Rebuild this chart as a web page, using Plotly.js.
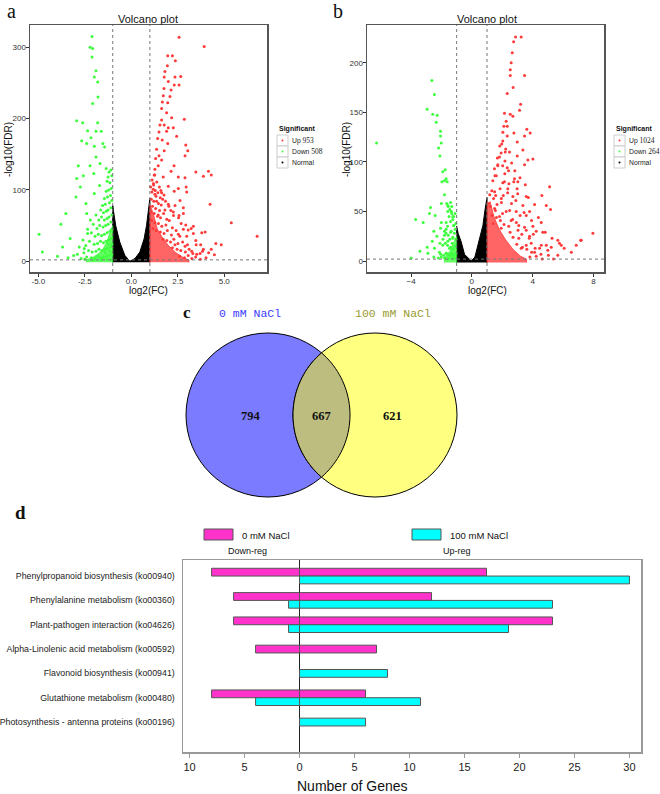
<!DOCTYPE html>
<html>
<head>
<meta charset="utf-8">
<script src="https://cdn.plot.ly/plotly-3.0.1.min.js"></script>
<style>
  body { margin: 0; background: #fff; }
  #chart { width: 660px; height: 794px; }
</style>
</head>
<body>
<div id="chart"></div>
<script>
// ---- panel a : volcano, 0 mM NaCl ----
const upA = [[2.57,314],[3.92,301],[1.96,288],[2.21,288],[2.37,281],[1.94,274],[1.81,266],[2.35,258],[2.66,259],[1.77,258],
  [1.99,252],[2.31,247],[2.57,247],[1.76,242],[2.14,240],[1.72,232],[2.08,231],[1.96,222],[1.67,223],[1.63,214],
  [1.9,208],[2.17,201],[1.63,198],[2.85,199],[1.54,191],[1.77,191],[1.99,187],[2.26,187],[1.49,181],[1.9,182],
  [2.44,175],[1.42,172],[1.66,170],[1.96,165],[2.93,163],[1.36,157],[1.77,155],[3.04,155],[1.49,148],[2.89,148],
  [1.31,144],[1.63,142],[1.45,134],[2.3,134],[1.27,129],[2.14,126],[3.47,125],[4.15,126],[4.3,121],[3.88,119],
  [1.23,121],[1.72,118],[2.53,118],[2.89,117],[1.2,107],[1.99,105],[2.95,104],[2.53,102],[1.18,101],[2.31,98],
  [1.63,96],[2.98,97],[2.62,85],[4.24,80],[1.36,84],[1.99,80],[2.35,78],[2.8,75],[1.81,72],[2.26,69],
  [2.8,67],[1.45,65],[2.57,64],[3.34,49],[3.22,46],[3.79,40],[3.97,41],[5.38,54],[6.77,35],[2.8,45],
  [2.53,38],[2.98,35],[4.55,25],[4.84,23],[4.3,17],[3.83,14],[3.49,23],[3.7,11],[3.52,10],[2.89,21],
  [2.35,23],[3.25,14],[1.04,104],[1.11,97],[1.19,109],[1.27,94],[1.07,87],[1.21,84],[1.33,91],[1.46,81],
  [1.14,77],[1.31,74],[1.52,71],[1.61,79],[1.06,69],[1.23,67],[1.41,63],[1.57,61],[1.74,67],[1.91,59],
  [1.09,57],[1.27,54],[1.46,53],[1.64,49],[1.86,51],[2.04,57],[2.21,47],[1.16,46],[1.34,43],[1.56,41],
  [1.76,39],[1.94,43],[2.16,37],[2.41,43],[2.61,35],[1.71,31],[1.91,29],[2.11,27],[2.29,31],[2.51,25],
  [2.76,27],[3.02,23],[2.21,19],[2.46,17],[2.66,15],[2.91,13],[3.11,17],[3.31,11],[2.61,7],[2.86,5],
  [3.06,8],[3.26,4],[3.46,6],[3.71,3],[4.02,5],[1.29,99],[1.43,96],[1.56,89],[1.69,87],[1.12,114],
  [1.26,121],[1.37,111],[1.51,104],[1.59,99],[1.76,93],[1.84,84],[2.02,77],[2.13,71],[2.27,64],[2.54,61],
  [2.68,53],[2.93,51],[3.06,44],[3.34,39],[3.47,29],[3.73,23],[3.88,17],[4.16,12],[4.47,9]];
const downA = [[-2.11,315],[-2.22,300],[-2.08,298],[-2.11,286],[-1.9,267],[-1.99,258],[-1.81,251],[-1.79,230],[-2.08,221],[-2.94,197],
  [-2.62,194],[-1.81,194],[-2.35,183],[-1.9,182],[-1.62,182],[-2.67,169],[-2.4,165],[-2.17,173],[-1.53,165],[-1.99,161],
  [-1.44,160],[-1.9,146],[-1.68,137],[-2.22,134],[-2.85,134],[-1.35,130],[-2.58,120],[-2.94,116],[-2.02,123],[-1.71,106],
  [-2.74,104],[-2.98,90],[-1.99,95],[-2.44,81],[-3.52,67],[-2.4,67],[-3.79,52],[-3.29,32],[-3.7,20],[-3.97,7],
  [-4.96,38],[-4.78,13],[-2.8,20],[-2.53,18],[-2.35,39],[-1.05,120],[-1.1,128],[-1.2,125],[-1.25,118],[-1.15,110],
  [-1.3,112],[-1.08,102],[-1.22,100],[-1.35,98],[-1.12,92],[-1.28,90],[-1.45,88],[-1.05,85],[-1.18,82],[-1.4,80],
  [-1.55,78],[-1.1,75],[-1.25,72],[-1.35,70],[-1.5,68],[-1.65,72],[-1.05,65],[-1.2,62],[-1.3,60],[-1.45,58],
  [-1.6,62],[-1.75,58],[-1.9,65],[-1.1,55],[-1.25,52],[-1.38,50],[-1.52,48],[-1.7,50],[-1.85,46],[-2.05,52],
  [-2.2,58],[-1.05,45],[-1.15,42],[-1.3,40],[-1.45,38],[-1.6,36],[-1.78,38],[-1.95,35],[-2.15,40],[-2.35,45],
  [-2.6,30],[-1.08,32],[-1.22,30],[-1.36,28],[-1.5,26],[-1.66,28],[-1.82,25],[-2.0,24],[-2.25,28],[-2.45,22],
  [-1.12,20],[-1.28,18],[-1.42,17],[-1.58,15],[-1.74,17],[-1.9,14],[-2.1,13],[-2.3,15],[-2.55,12],[-2.9,10],
  [-1.05,10],[-1.2,8],[-1.35,7],[-1.5,6],[-1.65,5],[-1.8,7],[-1.95,4],[-2.15,5],[-2.4,6],[-2.7,4],
  [-3.1,8],[-3.4,5],[-1.1,3],[-1.3,2.5],[-1.6,2.5],[-2.0,2.5],[-2.5,3],[-1.15,14],[-1.25,24],[-1.05,24],[-1.4,12]];
// dense cores (outline of the solid-looking part of each cloud)
const upCoreAx = [1.0, 1.0, 1.2, 1.4, 1.7, 2.0, 2.4, 2.8, 3.1, 3.1];
const upCoreAy = [-1.5, 80, 65, 45, 32, 22, 12, 5, 2, -1.5];
const downCoreAx = [-1.0, -1.0, -1.15, -1.3, -1.5, -1.8, -2.1, -2.4, -2.4];
const downCoreAy = [-1.5, 50, 40, 28, 18, 10, 5, 2, -1.5];
const normalAx = [-1.0, -1.0, -0.95, -0.84, -0.62, -0.35, -0.08, 0.2, 0.46, 0.69, 0.82, 0.91, 1.0, 1.0];
const normalAy = [-1.5, 78, 69, 50, 27, 8.4, 0, 4, 13, 31.7, 50.4, 69, 88, -1.5];

// ---- panel b : volcano, 100 mM NaCl ----
const upB = [[2.88,226],[3.25,226],[2.75,221],[2.66,210],[2.59,200],[2.53,193],[2.53,187],[3.47,187],[2.72,175],[2.33,169],
  [3.21,158],[3.14,152],[2.53,148],[2.15,149],[2.7,146],[2.26,141],[2.11,136],[2.33,136],[3.62,133],[3.84,129],
  [2.77,129],[3.47,126],[2.04,130],[2.33,126],[2.04,121],[2.99,120],[1.84,116],[3.36,112],[2.2,110],[2.48,110],
  [2.99,106],[3.69,102],[4.02,103],[1.82,105],[3.47,97],[1.71,96],[2.33,94],[2.81,83],[3.03,80],[1.61,86],
  [2.15,80],[2.37,73],[4.61,66],[5.12,75],[3.58,65],[2.7,65],[1.5,70],[1.94,63],[4.9,56],[5.18,52],
  [3.36,56],[2.92,50],[3.8,50],[2.26,50],[3.58,46],[1.5,53],[1.82,45],[2.59,41],[4.57,39],[4.02,35],
  [3.09,36],[3.58,31],[4.67,29],[4.24,30],[5.66,21],[5.77,18],[3.8,25],[3.09,23],[7.16,21],[7.97,28],
  [6.87,16],[4.9,16],[5.23,14],[5.89,16],[4.46,13],[4.13,9],[5.0,11],[4.57,16],[5.66,6],[3.58,16],
  [3.25,13],[3.91,18],[1.07,58],[1.18,67],[1.31,71],[1.38,81],[1.52,86],[1.49,93],[1.71,97],[1.68,104],
  [1.93,109],[1.22,55],[1.43,63],[1.57,66],[1.86,73],[2.04,79],[2.17,88],[1.33,46],[1.55,51],[1.66,57],
  [1.95,59],[2.07,66],[2.36,69],[2.44,78],[2.76,80],[1.41,38],[1.62,44],[1.88,41],[2.02,48],[2.49,51],
  [2.61,58],[2.9,61],[3.02,68],[1.93,33],[2.12,37],[2.43,35],[2.68,42],[2.93,39],[3.18,46],[3.44,49],
  [2.52,29],[2.71,24],[3.04,31],[3.29,27],[3.47,34],[3.78,23],[4.05,27],[2.96,17],[3.33,14],[3.62,12],
  [3.94,9],[4.17,13],[4.55,7],[3.82,4],[4.24,5],[4.63,2],[5.04,6],[5.38,2],[2.03,96],[2.18,101],
  [2.42,91],[1.97,118],[2.23,113],[2.62,99],[2.83,91],[3.17,84],[3.52,77],[2.98,73],[3.72,64],[4.13,57],
  [4.38,44],[3.93,41],[4.83,29],[5.28,23],[6.08,13],[6.55,9],[7.2,21]];
const downB = [[-2.63,182],[-2.46,168],[-2.94,153],[-2.57,148],[-2.28,147],[-2.34,140],[-2.06,131],[-2.06,126],[-2.01,119],[-6.27,119],
  [-2.19,114],[-2.1,106],[-1.75,92],[-1.91,90],[-1.69,83],[-1.8,81],[-1.62,80],[-1.97,80],[-1.8,67],[-2.01,58],
  [-1.4,59],[-1.58,56],[-1.32,55],[-2.72,54],[-2.41,46],[-2.79,48],[-1.58,50],[-1.32,48],[-3.7,42],[-3.2,39],
  [-1.25,45],[-1.69,39],[-2.01,39],[-2.06,33],[-2.5,30],[-1.69,32],[-1.4,29],[-1.18,36],[-1.25,23],[-1.8,26],
  [-1.58,20],[-2.94,14],[-3.42,10],[-2.89,8],[-2.46,13],[-2.13,9],[-3.99,3],[-1.91,16],[-1.47,13],[-1.32,6],
  [-1.69,8],[-2.01,4],[-1.05,38],[-1.1,32],[-1.2,36],[-1.15,28],[-1.25,24],[-1.35,30],[-1.05,22],[-1.3,18],
  [-1.45,22],[-1.55,26],[-1.12,15],[-1.22,12],[-1.4,14],[-1.6,16],[-1.75,18],[-1.05,8],[-1.18,6],[-1.32,8],
  [-1.5,6],[-1.68,8],[-1.85,6],[-2.05,7],[-1.1,3],[-1.3,3],[-1.55,2.5],[-1.8,3],[-2.2,3],[-2.5,4],
  [-1.4,40],[-1.5,45],[-1.6,35],[-1.7,28],[-1.9,22],[-2.1,18],[-1.2,45],[-1.35,50],[-1.45,52],[-1.55,55],
  [-1.65,58],[-1.8,30],[-2.3,25],[-2.6,20],[-1.25,42],[-1.1,48]];
const upCoreBx = [1.0, 1.0, 1.2, 1.45, 1.8, 2.2, 2.7, 3.2, 3.6, 3.6];
const upCoreBy = [-1.5, 55, 60, 45, 32, 22, 12, 5, 2, -1.5];
const downCoreBx = [-1.0, -1.0, -1.2, -1.45, -1.8, -1.8];
const downCoreBy = [-1.5, 25, 18, 10, 3, -1.5];
const normalBx = [-1.0, -1.0, -0.9, -0.7, -0.48, -0.04, 0.2, 0.44, 0.73, 0.88, 0.97, 1.0, 1.0];
const normalBy = [-1.5, 35, 28, 19.4, 6.8, 0, 4, 19.4, 36, 53, 62, 64, -1.5];

// ---- panel c : venn counts ----
const vennLeft = 794, vennBoth = 667, vennRight = 621;

// ---- panel d : KEGG pathways ----
const pathways = ["Phenylpropanoid biosynthesis (ko00940)", "Phenylalanine metabolism (ko00360)",
  "Plant-pathogen interaction (ko04626)", "Alpha-Linolenic acid metabolism (ko00592)",
  "Flavonoid biosynthesis (ko00941)", "Glutathione metabolism (ko00480)",
  "Photosynthesis - antenna proteins (ko00196)"];
const down0 = [8, 6, 6, 4, 0, 8, 0];
const up0 = [17, 12, 23, 7, 0, 6, 0];
const down100 = [0, 1, 1, 0, 0, 4, 0];
const up100 = [30, 23, 19, 0, 8, 11, 6];

const RED = '#ff3a3a', GREEN = '#3dff3d', PINK = '#ff33cc', CYAN = '#00ffff';
const W = 660, H = 794;
const px = v => v / W;
const py = v => 1 - v / H;

function dots(pts, color, xa, ya) {
  return { type: 'scatter', mode: 'markers', x: pts.map(p => p[0]), y: pts.map(p => p[1]),
    xaxis: xa, yaxis: ya, marker: { size: 3, color: color }, hoverinfo: 'skip' };
}
function blob(xs, ys, color, xa, ya) {
  return { type: 'scatter', mode: 'lines', x: xs, y: ys, fill: 'toself', fillcolor: color,
    line: { width: 1, color: color }, xaxis: xa, yaxis: ya, hoverinfo: 'skip' };
}

const data = [
  blob(normalAx, normalAy, '#000', 'x', 'y'),
  blob(upCoreAx, upCoreAy, 'rgba(255,50,50,0.75)', 'x', 'y'),
  blob(downCoreAx, downCoreAy, 'rgba(50,255,50,0.75)', 'x', 'y'),
  dots(upA, RED, 'x', 'y'),
  dots(downA, GREEN, 'x', 'y'),
  blob(normalBx, normalBy, '#000', 'x2', 'y2'),
  blob(upCoreBx, upCoreBy, 'rgba(255,50,50,0.75)', 'x2', 'y2'),
  blob(downCoreBx, downCoreBy, 'rgba(50,255,50,0.75)', 'x2', 'y2'),
  dots(upB, RED, 'x2', 'y2'),
  dots(downB, GREEN, 'x2', 'y2'),
];

// bars: paired rows share the slot, single rows are centred
const bw = 0.32;
const idx = pathways.map((_, i) => i);
const has0 = idx.map(i => down0[i] + up0[i] > 0);
const has100 = idx.map(i => down100[i] + up100[i] > 0);
const off0 = idx.map(i => has100[i] ? -bw : -bw / 2);
const off100 = idx.map(i => has0[i] ? 0 : -bw / 2);
function bars(vals, sign, color, offs) {
  return { type: 'bar', orientation: 'h', x: vals.map(v => v ? sign * v : null), y: idx,
    xaxis: 'x3', yaxis: 'y3', width: bw, offset: offs, hoverinfo: 'skip',
    marker: { color: color, line: { color: '#555', width: 1 } } };
}
data.push(bars(down0, -1, PINK, off0), bars(up0, 1, PINK, off0),
          bars(down100, -1, CYAN, off100), bars(up100, 1, CYAN, off100));

const volAxis = {
  showgrid: false, zeroline: false, showline: true, mirror: true, linecolor: '#555', linewidth: 1.5,
  ticks: 'outside', ticklen: 3, tickcolor: '#333', ticklabelstandoff: -2,
  tickfont: { family: 'Liberation Sans', size: 8, color: '#333' }
};

const annotations = [];
const shapes = [];
function note(x, y, text, size, opts) {
  annotations.push(Object.assign({ xref: 'paper', yref: 'paper', x: px(x), y: py(y), text: text,
    showarrow: false, xanchor: 'center', yanchor: 'middle',
    font: { family: 'Liberation Sans', size: size, color: '#111' } }, opts || {}));
}

// panel letters and volcano texts
note(11, 11, 'a', 20, { font: { family: 'Liberation Serif', size: 20, color: '#111' } });
note(338, 11, 'b', 20, { font: { family: 'Liberation Serif', size: 20, color: '#111' } });
note(148, 19, 'Volcano plot', 11);
note(487, 19, 'Volcano plot', 11);
note(148, 290, 'log2(FC)', 10);
note(487, 290, 'log2(FC)', 10);
note(8, 150, '-log10(FDR)', 10, { textangle: -90 });
note(346, 150, '-log10(FDR)', 10, { textangle: -90 });

// ggplot-like keys
function keys(x0, labels) {
  note(x0, 129, '<b>Significant</b>', 7, { xanchor: 'left' });
  const cols = [RED, GREEN, '#000'];
  labels.forEach((lab, i) => {
    const top = 135 + i * 11;
    shapes.push({ type: 'rect', xref: 'paper', yref: 'paper', x0: px(x0), x1: px(x0 + 11),
      y0: py(top + 11), y1: py(top), line: { color: '#ccc', width: 1 }, fillcolor: '#fff' });
    shapes.push({ type: 'circle', xref: 'paper', yref: 'paper', x0: px(x0 + 4.5), x1: px(x0 + 6.5),
      y0: py(top + 6.5), y1: py(top + 4.5), line: { width: 0 }, fillcolor: cols[i] });
    note(x0 + 13, top + 5.5, lab, 6.8, { xanchor: 'left', font: { family: 'Liberation Sans', size: 6.8, color: '#222' } });
  });
}
const serif = n => '<span style="font-family:Liberation Serif;font-size:7.5px">' + n + '</span>';
keys(277, ['Up ' + serif(953), 'Down ' + serif(508), 'Normal']);
keys(614, ['Up ' + serif(1024), 'Down ' + serif(264), 'Normal']);

// dashed cut-offs
['x', 'x2'].forEach((xa, k) => {
  const ya = k ? 'y2' : 'y';
  [-1, 1].forEach(v => shapes.push({ type: 'line', xref: xa, yref: ya + ' domain', x0: v, x1: v, y0: 0, y1: 1,
    line: { color: '#777', width: 1, dash: 'dot' } }));
  shapes.push({ type: 'line', xref: xa + ' domain', yref: ya, x0: 0, x1: 1, y0: 2, y1: 2,
    line: { color: '#777', width: 1, dash: 'dot' } });
});

// venn
const c1 = [268, 415], c2 = [375, 415], r = 82;
function ring(c, fill) {
  return { type: 'circle', xref: 'paper', yref: 'paper', x0: px(c[0] - r), x1: px(c[0] + r),
    y0: py(c[1] + r), y1: py(c[1] - r), fillcolor: fill, line: { color: '#000', width: 1 } };
}
shapes.push(ring(c1, '#7b7bff'), ring(c2, '#ffff80'));
const half = (c2[0] - c1[0]) / 2;
const phi = Math.acos(half / r);
let lens = '';
for (let k = 0; k <= 40; k++) {          // left edge of the lens (circle 2), top -> bottom
  const t = Math.PI + phi - 2 * phi * k / 40;
  lens += (k ? 'L' : 'M') + px(c2[0] + r * Math.cos(t)) + ',' + py(c2[1] + r * Math.sin(t));
}
for (let k = 0; k <= 40; k++) {          // right edge (circle 1), bottom -> top
  const t = phi - 2 * phi * k / 40;
  lens += 'L' + px(c1[0] + r * Math.cos(t)) + ',' + py(c1[1] + r * Math.sin(t));
}
shapes.push({ type: 'path', xref: 'paper', yref: 'paper', path: lens + 'Z', fillcolor: '#bdbd80',
  line: { color: '#000', width: 1 } });
const vfont = { family: 'Liberation Serif', size: 12.5, color: '#111' };
note(c1[0] - 17, c1[1] + 1, '<b>' + vennLeft + '</b>', 12.5, { font: vfont });
note((c1[0] + c2[0]) / 2, c1[1] + 1, '<b>' + vennBoth + '</b>', 12.5, { font: vfont });
note(c2[0] + 17, c2[1] + 1, '<b>' + vennRight + '</b>', 12.5, { font: vfont });
note(187, 312, '<b>c</b>', 17, { font: { family: 'Liberation Serif', size: 17, color: '#111' } });
note(250, 313, '0 mM NaCl', 11, { font: { family: 'Liberation Mono', size: 11.5, color: '#3a3aff' } });
note(393, 313, '100 mM NaCl', 11, { font: { family: 'Liberation Mono', size: 11.5, color: '#9a9a30' } });

// panel d texts and keys
note(21, 512, '<b>d</b>', 19, { font: { family: 'Liberation Serif', size: 19, color: '#111' } });
[[204, PINK, '0 mM NaCl'], [412, CYAN, '100 mM NaCl']].forEach(([x0, col, lab]) => {
  shapes.push({ type: 'rect', xref: 'paper', yref: 'paper', x0: px(x0), x1: px(x0 + 29), y0: py(540), y1: py(529),
    fillcolor: col, line: { color: '#555', width: 1 } });
  note(x0 + 36, 535, lab, 9.5, { xanchor: 'left' });
});
note(247, 551, 'Down-reg', 9);
note(457, 551, 'Up-reg', 9);
note(353, 786, 'Number of Genes', 14);

const layout = {
  width: W, height: H, margin: { l: 0, r: 0, t: 0, b: 0 }, showlegend: false,
  paper_bgcolor: '#fff', plot_bgcolor: '#fff', barmode: 'overlay',
  xaxis: Object.assign({}, volAxis, { domain: [px(30), px(267)], anchor: 'y', range: [-5.45, 7.3],
    tickvals: [-5, -2.5, 0, 2.5, 5], ticktext: ['-5.0', '-2.5', '0.0', '2.5', '5.0'] }),
  yaxis: Object.assign({}, volAxis, { domain: [py(272), py(25)], anchor: 'x', range: [-15, 331],
    tickvals: [0, 100, 200, 300] }),
  xaxis2: Object.assign({}, volAxis, { domain: [px(367), px(604)], anchor: 'y2', range: [-6.9, 8.7],
    tickvals: [-4, 0, 4, 8] }),
  yaxis2: Object.assign({}, volAxis, { domain: [py(272), py(25)], anchor: 'x2', range: [-11, 238],
    tickvals: [0, 50, 100, 150, 200] }),
  xaxis3: { domain: [px(183), px(641)], anchor: 'y3', range: [-10.6, 31.05],
    tickvals: [-10, -5, 0, 5, 10, 15, 20, 25, 30], ticktext: ['10', '5', '0', '5', '10', '15', '20', '25', '30'],
    showgrid: false, showline: true, mirror: true, linecolor: '#999', linewidth: 1.5,
    zeroline: true, zerolinecolor: '#222', zerolinewidth: 1,
    ticks: 'outside', ticklen: 4, tickcolor: '#999', tickfont: { family: 'Liberation Sans', size: 11, color: '#222' } },
  yaxis3: { domain: [py(752), py(560)], anchor: 'x3', range: [7.23, -0.66],
    tickvals: idx, ticktext: pathways, showgrid: false, zeroline: false,
    showline: true, mirror: true, linecolor: '#999', linewidth: 1.5,
    ticks: 'outside', ticklen: 5, tickcolor: 'rgba(0,0,0,0)',
    tickfont: { family: 'Liberation Sans', size: 8.8, color: '#222' } },
  shapes: shapes,
  annotations: annotations
};

Plotly.newPlot('chart', data, layout, { staticPlot: true });
</script>
</body>
</html>
